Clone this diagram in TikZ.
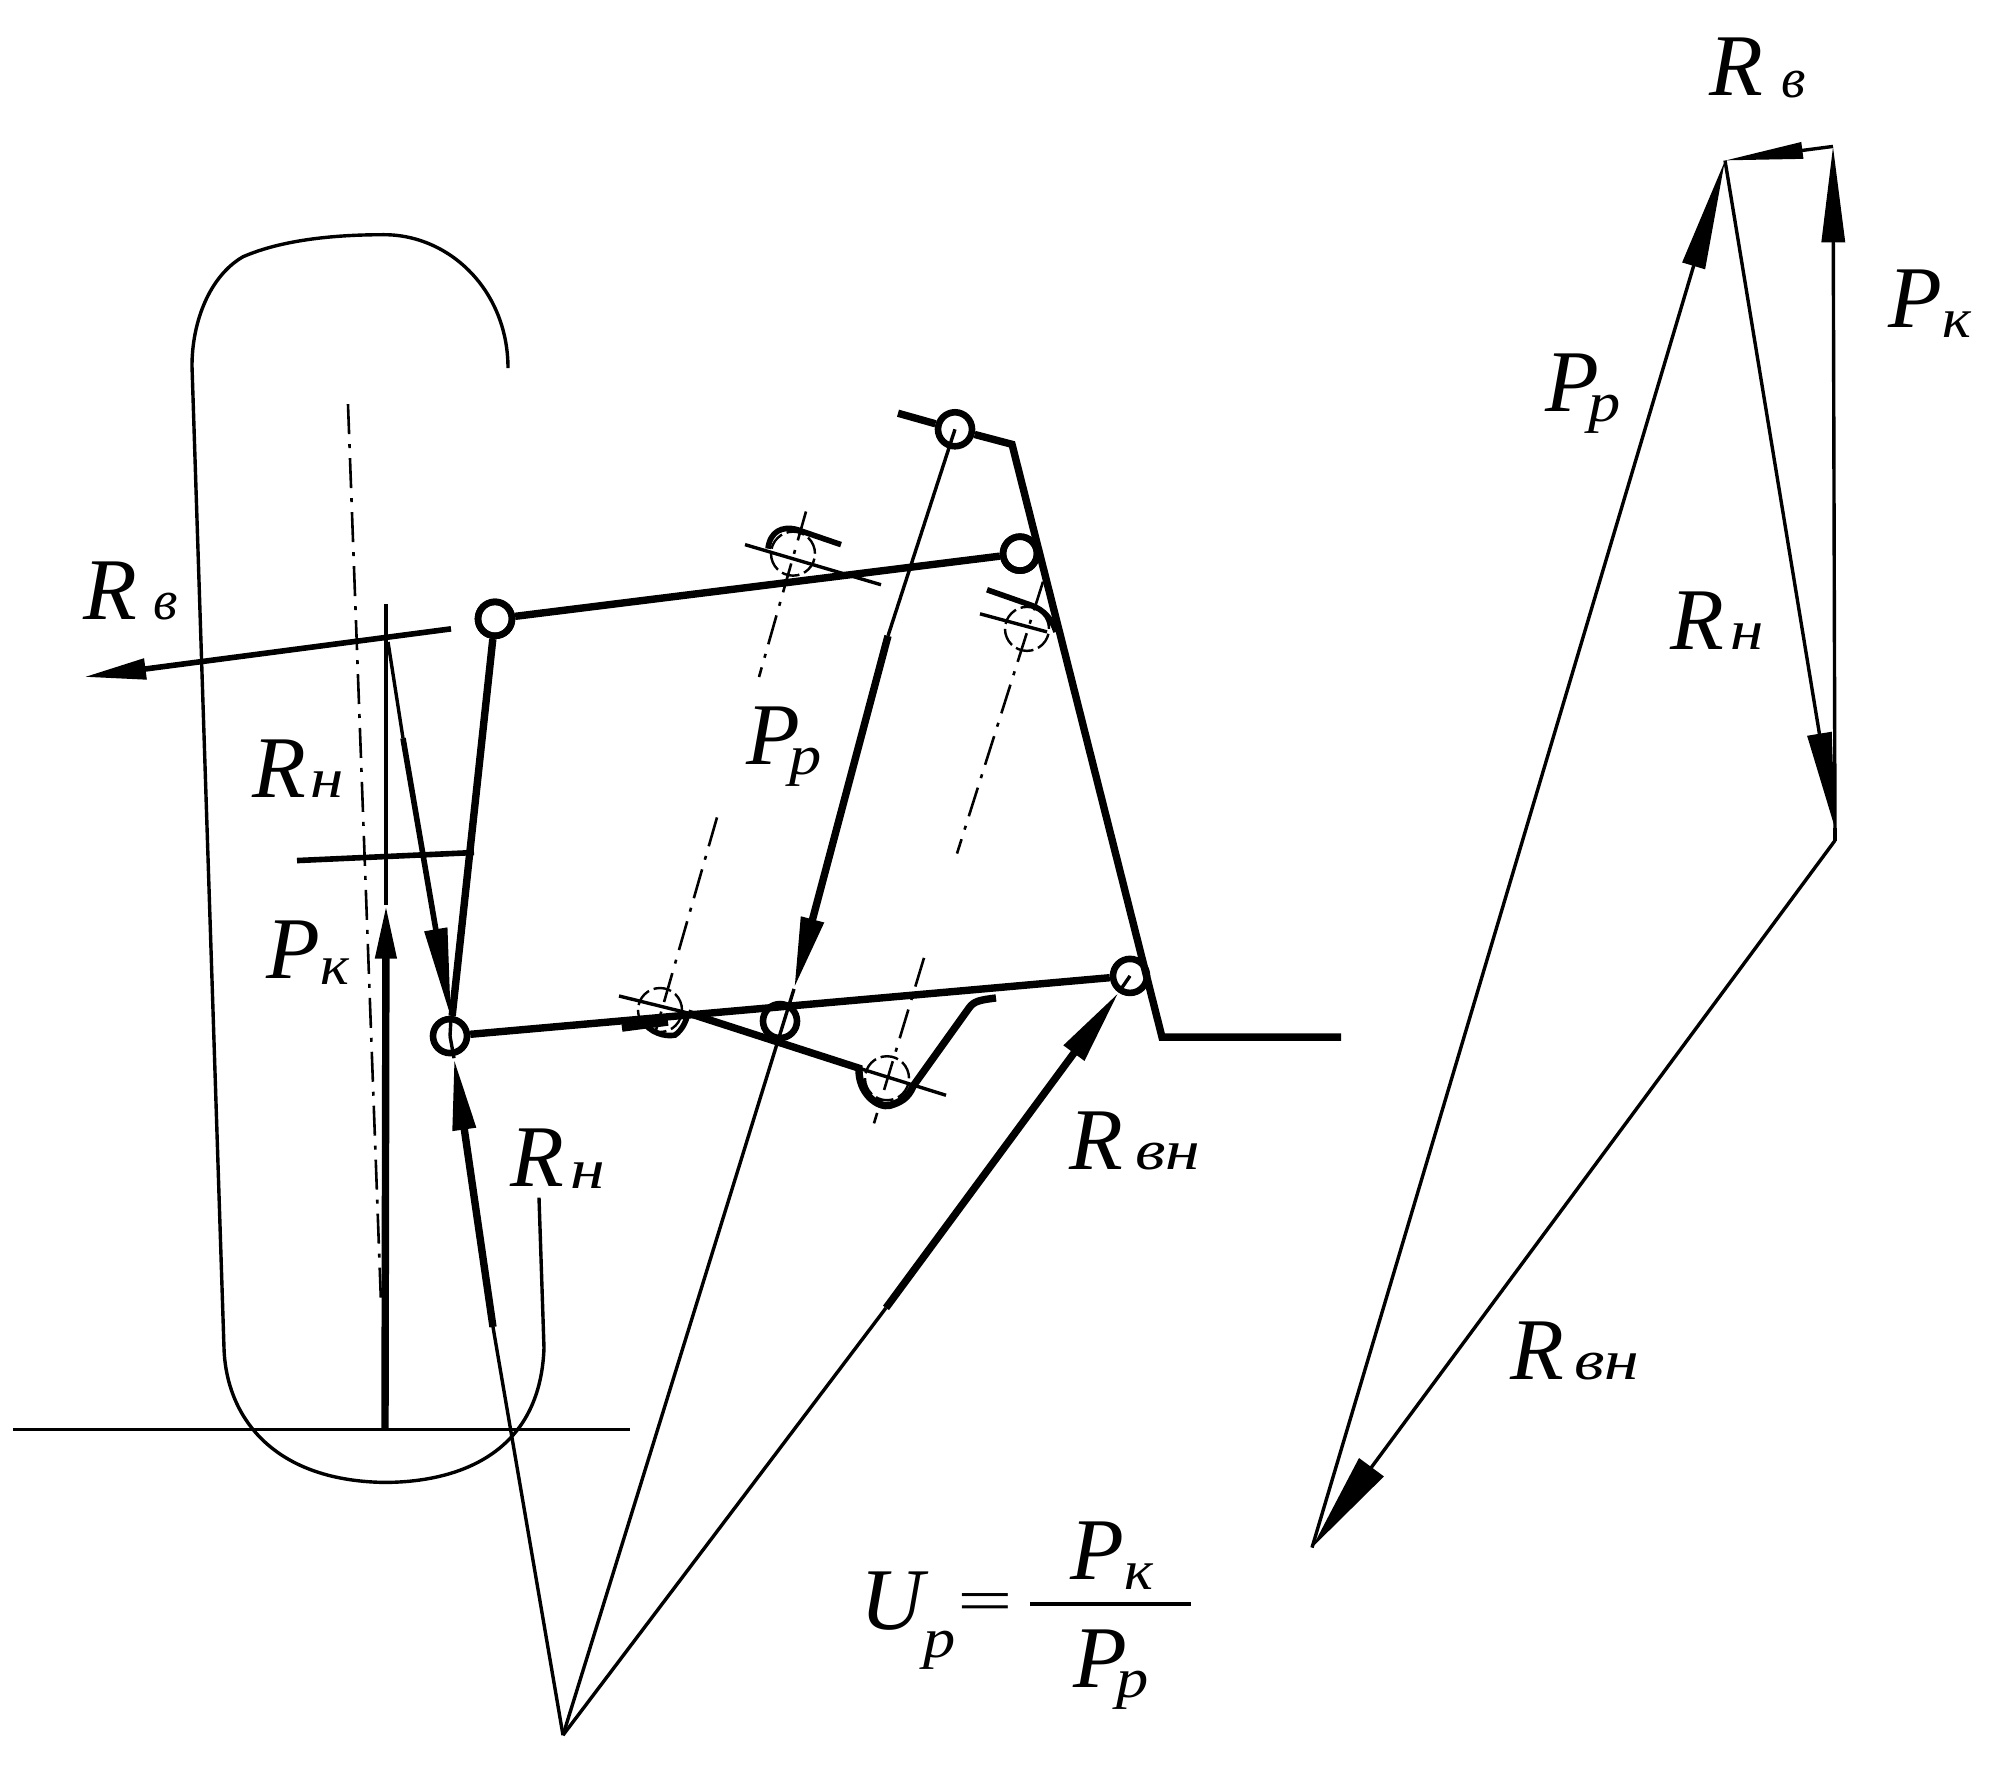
\documentclass[tikz,border=0pt]{standalone}
\usepackage{fontspec}
\usepackage{graphicx}
\setmainfont{Liberation Serif}
\usetikzlibrary{arrows.meta}
\newcommand{\sbt}[3]{\kern#1pt\raisebox{#2pt}{\fontsize{28}{28}\selectfont #3}}
\newcommand{\sbw}[4]{\kern#1pt\raisebox{#2pt}{\scalebox{#3}[1]{\fontsize{28}{28}\selectfont #4}}}
\tikzset{
 thinln/.style={line width=1.7pt,line cap=butt,line join=miter},
 thickln/.style={line width=3.7pt,line join=miter},
 medln/.style={line width=2.8pt},
 dd/.style={line width=1.3pt,dash pattern=on 15pt off 5pt on 2pt off 5pt},
 dcirc/.style={circle,draw,line width=1.2pt,dash pattern=on 9pt off 2.5pt,minimum size=22pt,inner sep=0pt},
 joint/.style={circle,draw,line width=3.3pt,fill=white,minimum size=17pt,inner sep=0pt},
 jointo/.style={circle,draw,line width=3.3pt,minimum size=17pt,inner sep=0pt},
 lbl/.style={anchor=base west,inner sep=0pt,font=\fontsize{44}{44}\selectfont\itshape},
}
\begin{document}
\begin{tikzpicture}[x=0.5pt,y=-0.5015pt]
\useasboundingbox (0,0) rectangle (2008,1759.7);
\fill[white] (0,0) rectangle (2008,1759.7);
% key points
\coordinate (O) at (563,1730);
\coordinate (groundL) at (13,1425); \coordinate (groundR) at (630,1425);
\coordinate (frameTop) at (1012,443); \coordinate (frameBend) at (1162,1034); \coordinate (frameEnd) at (1341,1034);
\coordinate (stubTop) at (898,412);
% tyre
\draw[thinln] (508,367) .. controls (508,290) and (450,234) .. (384,234) .. controls (330,234) and (280,240) .. (243,256) .. controls (210,275) and (192,320) .. (192,365) -- (224,1344) .. controls (226,1410) and (270,1476) .. (384,1478) .. controls (450,1478) and (540,1455) .. (544,1344) -- (539,1194);
\draw[thinln] (groundL) -- (groundR);
\coordinate (cTop) at (348,403); \coordinate (cBot) at (381,1299);
\draw[dd] (cTop) -- (cBot);
% joints
\node[joint] (jTop) at (955,428) {};
\node[joint] (jUR) at (1020,552) {};
\node[joint] (jUL) at (495,617) {};
\node[joint] (jLL) at (450,1033) {};
\node[joint] (jLR) at (1130,973) {};
\node[joint] (jMid) at (780,1018) {};
% dashed hinge circles
\node[dcirc] (h1) at (793,552) {};
\node[dcirc] (h2) at (1027,627) {};
\node[dcirc] (h3) at (660,1007) {};
\node[dcirc] (h4) at (887,1075) {};
% frame
\draw[thickln] (stubTop) -- (jTop) -- (frameTop) -- (frameBend) -- (frameEnd);
% links
\draw[thickln] (jUL) -- (jUR);
\draw[thickln] (jUL) -- (jLL);
\draw[thickln] (jLL) -- (jLR);
\node[jointo] at (jUL) {};
\node[jointo] at (jUR) {};
% left forces
\coordinate (rvStart) at (451,627); \coordinate (rvTip) at (84,675);
\draw[medln,-{Triangle[length=31pt,width=10pt]}] (rvStart) -- (rvTip);
\coordinate (pkBase) at (385,1425); \coordinate (pkTip) at (386,902); \coordinate (pkTop) at (386,602);
\draw[thinln] (pkTop) -- (pkTip);
\draw[thickln,-{Triangle[length=27pt,width=10pt]}] (pkBase) -- (pkTip);
\coordinate (rnTop) at (388,640); \coordinate (rnThick) at (403,736); \coordinate (rnTip) at (451,1015);
\draw[thinln] (rnTop) -- (rnThick);
\draw[medln,-{Triangle[length=45pt,width=11pt]}] (rnThick) -- (rnTip);
\draw[thinln] (rnTip) -- (jLL.center);
\coordinate (stubL) at (297,858); \coordinate (stubR) at (474,850);
\draw[medln] (stubL) -- (stubR);
% lines from O
\coordinate (ln1) at (493,1323); \coordinate (ln1Tip) at (454,1055);
\draw[thinln] (O) -- (ln1);
\draw[thickln,-{Triangle[length=36pt,width=11pt]}] (ln1) -- (ln1Tip);
\draw[thinln] (ln1Tip) -- (jLL.center);
\coordinate (ln2) at (886,1304); \coordinate (ln2Tip) at (1119,989);
\draw[thinln] (O) -- (ln2);
\draw[thickln,-{Triangle[length=38pt,width=12pt]}] (ln2) -- (ln2Tip);
\draw[thinln] (ln2Tip) -- (jLR.center);
\coordinate (pp) at (888,634); \coordinate (ppTip) at (794,986);
\draw[thinln] (jTop.center) -- (pp);
\draw[thickln,-{Triangle[length=36pt,width=11pt]}] (pp) -- (ppTip);
\draw[thinln] (ppTip) -- (O);
% hinge 1
\draw[medln] (768,547) .. controls (770,530) and (782,524) .. (797,528) -- (841,543);
\coordinate (c1a) at (745,543); \coordinate (c1b) at (881,583);
\draw[thinln] (c1a) -- (c1b);
\coordinate (d1a) at (806,510); \coordinate (d1b) at (759,675);
\draw[dd] (d1a) -- (d1b);
% hinge 2
\draw[medln] (987,588) -- (1030,603) .. controls (1045,608) and (1052,618) .. (1056,630);
\coordinate (c2a) at (980,612); \coordinate (c2b) at (1047,630);
\draw[thinln] (c2a) -- (c2b);
\coordinate (d2a) at (1043,580); \coordinate (d2b) at (957,851);
\draw[dd] (d2a) -- (d2b);
% hinge 3
\coordinate (c3a) at (619,993);
\draw[thinln] (c3a) -- (688,1010);
\draw[thickln] (622,1025) -- (668,1019);
\draw[medln] (642,1017) .. controls (650,1030) and (665,1034) .. (675,1032) .. controls (682,1027) and (686,1019) .. (688,1010);
\coordinate (d3a) at (717,815); \coordinate (d3b) at (656,1027);
\draw[dd] (d3a) -- (d3b);
% lever and hinge 4
\draw[thickln] (688,1010) -- (859,1065) .. controls (858,1090) and (878,1105) .. (890,1102) .. controls (900,1099) and (908,1095) .. (913,1083) -- (969,1005) .. controls (974,998) and (980,997) .. (996,995);
\coordinate (c4b) at (946,1092);
\draw[thinln] (859,1065) -- (c4b);
\coordinate (d4a) at (924,955); \coordinate (d4b) at (874,1120);
\draw[dd] (d4a) -- (d4b);
% force polygon
\coordinate (A) at (1725,160); \coordinate (B) at (1833,146); \coordinate (C) at (1835,838); \coordinate (D) at (1312,1543);
\draw[thinln,-{Triangle[length=39pt,width=8pt]}] (B) -- (A);
\draw[thinln,-{Triangle[length=48pt,width=11.5pt]}] (C) -- (B);
\draw[thinln,-{Triangle[length=55pt,width=11.5pt]}] (D) -- (A);
\coordinate (An) at (1835,826);
\draw[thinln,-{Triangle[length=48pt,width=12pt]}] (A) -- (An);
\draw[thinln] (An) -- (C);
\draw[thinln,-{Triangle[length=50pt,width=15pt]}] (C) -- (D);
% labels
\node[lbl] (l1) at (83,618) {R\sbt{8}{0}{в}};
\node[lbl] (l2) at (252,795) {R\sbw{2}{0}{1.2}{н}};
\node[lbl] (l3) at (266,976) {P\sbw{0}{-3}{1.1}{к}};
\node[lbl] (l4) at (510,1183) {R\sbw{3}{-1}{1.25}{н}};
\node[lbl] (l5) at (746,762) {P\sbw{-5.5}{-5}{1.15}{р}};
\node[lbl] (l6) at (1069,1166) {R\sbw{6}{0}{1.25}{вн}};
\node[lbl] (l7) at (1709,95) {R\sbt{9}{-1}{в}};
\node[lbl] (l8) at (1888,327) {P\sbw{0}{-5}{1.1}{к}};
\node[lbl] (l9) at (1545,410) {P\sbw{-5.5}{-5}{1.15}{р}};
\node[lbl] (l10) at (1670,648) {R\sbw{3}{0}{1.2}{н}};
\node[lbl] (l11) at (1510,1375) {R\sbw{5}{0}{1.25}{вн}};
% formula
\node[lbl] (u) at (860,1625) {U\sbw{0}{-14}{1.15}{р}};
\node[lbl,font=\fontsize{36}{36}\selectfont] (eq) at (957,1617) {\scalebox{1.37}[0.85]{=}};
\coordinate (fL) at (1030,1599); \coordinate (fR) at (1191,1599);
\draw[line width=1.9pt] (fL) -- (fR);
\node[lbl] (pn) at (1070,1575) {P\sbw{0}{-5}{1.1}{к}};
\node[lbl] (pd) at (1073,1682) {P\sbw{-5.5}{-5}{1.15}{р}};
\end{tikzpicture}
\end{document}
